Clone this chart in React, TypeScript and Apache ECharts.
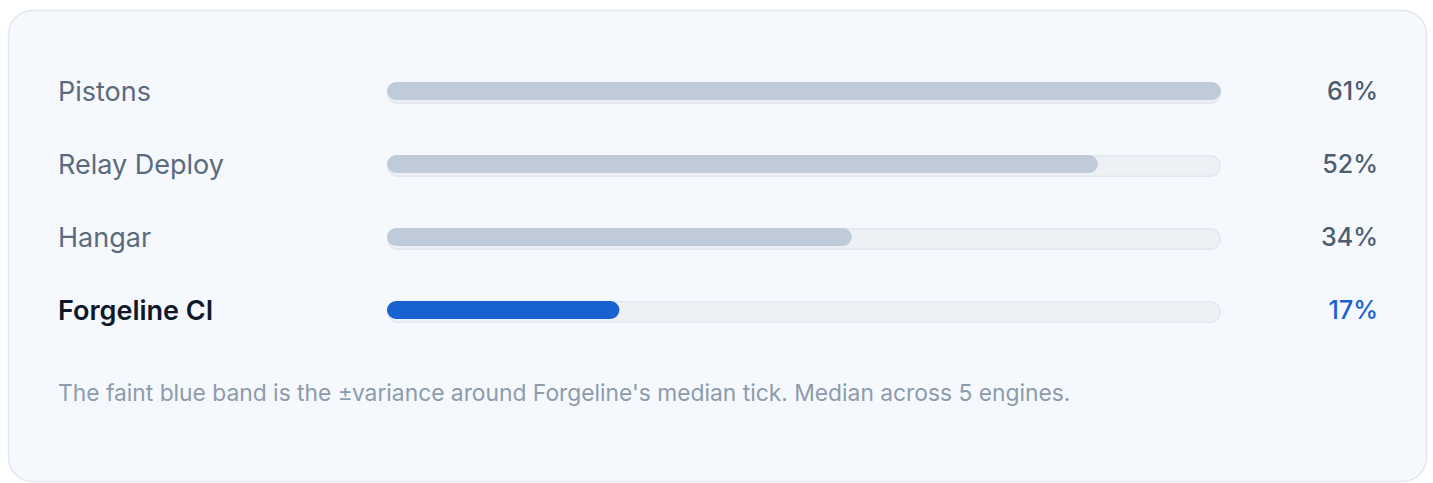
import React, { useEffect, useRef } from "react";
import * as echarts from "echarts";

const categories = ["Pistons", "Relay Deploy", "Hangar", "Forgeline CI"];
const values = [61, 52, 34, 17];
const highlight = "Forgeline CI";
const footnote =
  "The faint blue band is the \u00b1variance around Forgeline's median tick. Median across 5 engines.";

export default function App() {
  const ref = useRef<HTMLDivElement>(null);
  useEffect(() => {
    if (!ref.current) return;
    const chart = echarts.init(ref.current, undefined, { renderer: "svg" });
    const maxV = Math.max(...values);
    const font = "Inter, 'Noto Sans', sans-serif";
    chart.setOption({
      animation: false,
      graphic: [
        {
          type: "rect",
          z: -10,
          shape: { x: 8.5, y: 10.5, width: 1418, height: 471, r: 24 },
          style: { fill: "#f5f8fc", stroke: "#e2e8f0", lineWidth: 1.5 },
        },
        {
          type: "text",
          x: 58,
          y: 392,
          style: {
            text: footnote,
            fill: "#8d9bac",
            font: `22.8px ${font}`,
            textVerticalAlign: "middle",
          },
        },
      ],
      grid: { left: 387, right: 212, top: 54.5, bottom: 136.5 },
      xAxis: {
        type: "value",
        min: 0,
        max: maxV,
        show: false,
      },
      yAxis: [
        {
          type: "category",
          inverse: true,
          data: categories,
          axisLine: { show: false },
          axisTick: { show: false },
          axisLabel: {
            align: "left",
            margin: 329,
            formatter: (v: string) => (v === highlight ? `{h|${v}}` : `{n|${v}}`),
            rich: {
              n: { fontSize: 27, fontFamily: font, color: "#5b6b7e" },
              h: { fontSize: 27, fontFamily: font, color: "#0f172a", fontWeight: 600 },
            },
          },
        },
        {
          type: "category",
          inverse: true,
          position: "right",
          data: categories,
          axisLine: { show: false },
          axisTick: { show: false },
          axisLabel: {
            align: "right",
            margin: 157,
            formatter: (c: string) => {
              const i = categories.indexOf(c);
              return c === highlight ? `{h|${values[i]}%}` : `{n|${values[i]}%}`;
            },
            rich: {
              n: { fontSize: 25, fontFamily: font, color: "#4d5d70", fontWeight: 500 },
              h: { fontSize: 25, fontFamily: font, color: "#1862d0", fontWeight: 500 },
            },
          },
        },
      ],
      series: [
        {
          type: "bar",
          yAxisIndex: 0,
          data: categories.map(() => maxV),
          barWidth: 22,
          barGap: "-100%",
          silent: true,
          itemStyle: {
            color: "#edf0f5",
            borderColor: "#e2e8f0",
            borderWidth: 1.5,
            borderRadius: 11,
          },
          z: 1,
        },
        {
          type: "bar",
          yAxisIndex: 0,
          data: values.map((v, i) => ({
            value: v,
            itemStyle: { color: categories[i] === highlight ? "#1862d0" : "#c0cbd9" },
          })),
          barWidth: 18,
          barGap: "-100%",
          itemStyle: { borderRadius: 9 },
          z: 2,
        },
      ],
    });
    return () => chart.dispose();
  }, []);
  return (
    <div
      ref={ref}
      style={{ position: "absolute", left: 0, top: 0, width: 1433, height: 483 }}
    />
  );
}
